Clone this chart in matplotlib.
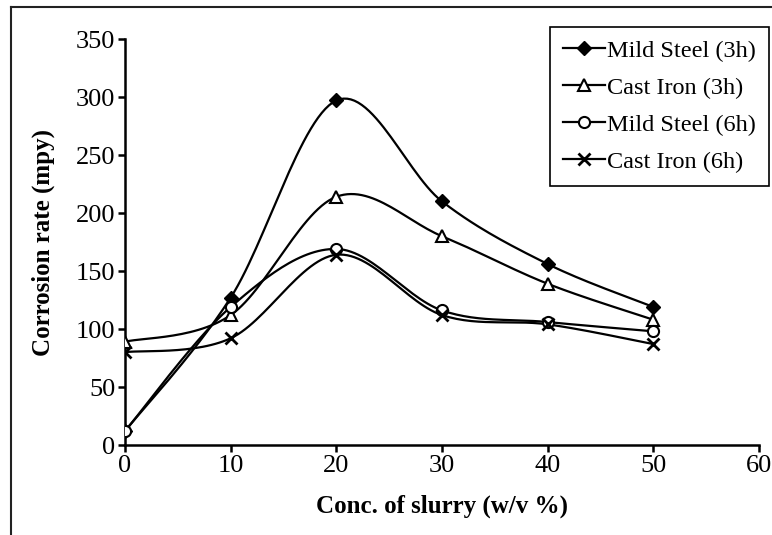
import numpy as np
import matplotlib
matplotlib.use("Agg")
import matplotlib.pyplot as plt
from matplotlib.lines import Line2D

# slurry concentration (w/v %)
conc = [0, 10, 20, 30, 40, 50]

# corrosion rates (mpy)
mild_steel_3h = [12, 127, 297, 210, 156, 119]
cast_iron_3h = [89, 112, 214, 180, 139, 108]
mild_steel_6h = [12, 119, 169, 116, 106, 98]
cast_iron_6h = [80, 92, 164, 112, 104, 87]

labels = ["Mild Steel (3h)", "Cast Iron (3h)", "Mild Steel (6h)", "Cast Iron (6h)"]

plt.rcParams['font.family'] = ['Liberation Serif', 'DejaVu Serif']

W, H = 772, 535
fig = plt.figure(figsize=(W / 100, H / 100), dpi=100)
ax = fig.add_axes([125 / W, 1 - 445 / H, (759 - 125) / W, (445 - 39) / H])

XMAX, YMAX = 60, 350
# pixel scale used for smoothing the curves like a spreadsheet "smooth line"
sx = 634 / XMAX
sy = 406 / YMAX


def smooth(x, y, n=30):
    # Catmull-Rom style bezier through the points, computed in screen-like units
    p = np.column_stack([np.array(x, float) * sx, np.array(y, float) * sy])
    out = []
    for i in range(len(p) - 1):
        p0 = p[i - 1] if i > 0 else p[i]
        p1 = p[i]
        p2 = p[i + 1]
        p3 = p[i + 2] if i + 2 < len(p) else p[i + 1]
        c1 = p1 + (p2 - p0) / 6
        c2 = p2 - (p3 - p1) / 6
        t = np.linspace(0, 1, n)[:, None]
        seg = ((1 - t) ** 3) * p1 + 3 * ((1 - t) ** 2) * t * c1 + 3 * (1 - t) * t ** 2 * c2 + t ** 3 * p2
        out.append(seg if i == 0 else seg[1:])
    out = np.vstack(out)
    return out[:, 0] / sx, out[:, 1] / sy


series = [mild_steel_3h, cast_iron_3h, mild_steel_6h, cast_iron_6h]
styles = [
    dict(marker='D', markersize=7, markerfacecolor='black', markeredgecolor='black', markeredgewidth=1.0),
    dict(marker='^', markersize=9, markerfacecolor='white', markeredgecolor='black', markeredgewidth=1.5),
    dict(marker='o', markersize=8, markerfacecolor='white', markeredgecolor='black', markeredgewidth=1.5),
    dict(marker='x', markersize=9, markeredgecolor='black', markeredgewidth=2.0),
]

for ys, st in zip(series, styles):
    xs_s, ys_s = smooth(conc, ys)
    ax.plot(xs_s, ys_s, color='black', lw=1.6, solid_capstyle='round', zorder=2)
    ax.plot(conc, ys, linestyle='none', zorder=3, **st)

ax.set_xlim(0, XMAX)
ax.set_ylim(0, YMAX)
ax.set_xticks(range(0, 61, 10))
ax.set_yticks(range(0, 351, 50))
ax.spines['top'].set_visible(False)
ax.spines['right'].set_visible(False)
for s in ('left', 'bottom'):
    ax.spines[s].set_linewidth(1.8)
ax.tick_params(direction='out', length=5, width=1.8, labelsize=19, pad=2)

ax.set_xlabel("Conc. of slurry (w/v %)", fontsize=18, fontweight='bold', labelpad=13)
ax.set_ylabel("Corrosion rate (mpy)", fontsize=18, fontweight='bold', labelpad=15)

handles = [Line2D([], [], color='black', lw=1.6, **st) for st in styles]
leg = ax.legend(handles, labels, loc='upper right', bbox_to_anchor=(769 / W, 1 - 27 / H),
                bbox_transform=fig.transFigure, borderaxespad=0, fancybox=False,
                edgecolor='black', fontsize=17.5, handlelength=1.75, handletextpad=0.1,
                labelspacing=0.62, borderpad=0.52, framealpha=1)
leg.get_frame().set_linewidth(1.2)

# outer frame of the figure (left and top edges visible)
fig.add_artist(Line2D([11 / W, 11 / W], [0, 1 - 7 / H], transform=fig.transFigure, color='#222222', lw=1.5))
fig.add_artist(Line2D([11 / W, 1], [1 - 7 / H, 1 - 7 / H], transform=fig.transFigure, color='#222222', lw=1.5))

fig.savefig("out.png", dpi=100)
